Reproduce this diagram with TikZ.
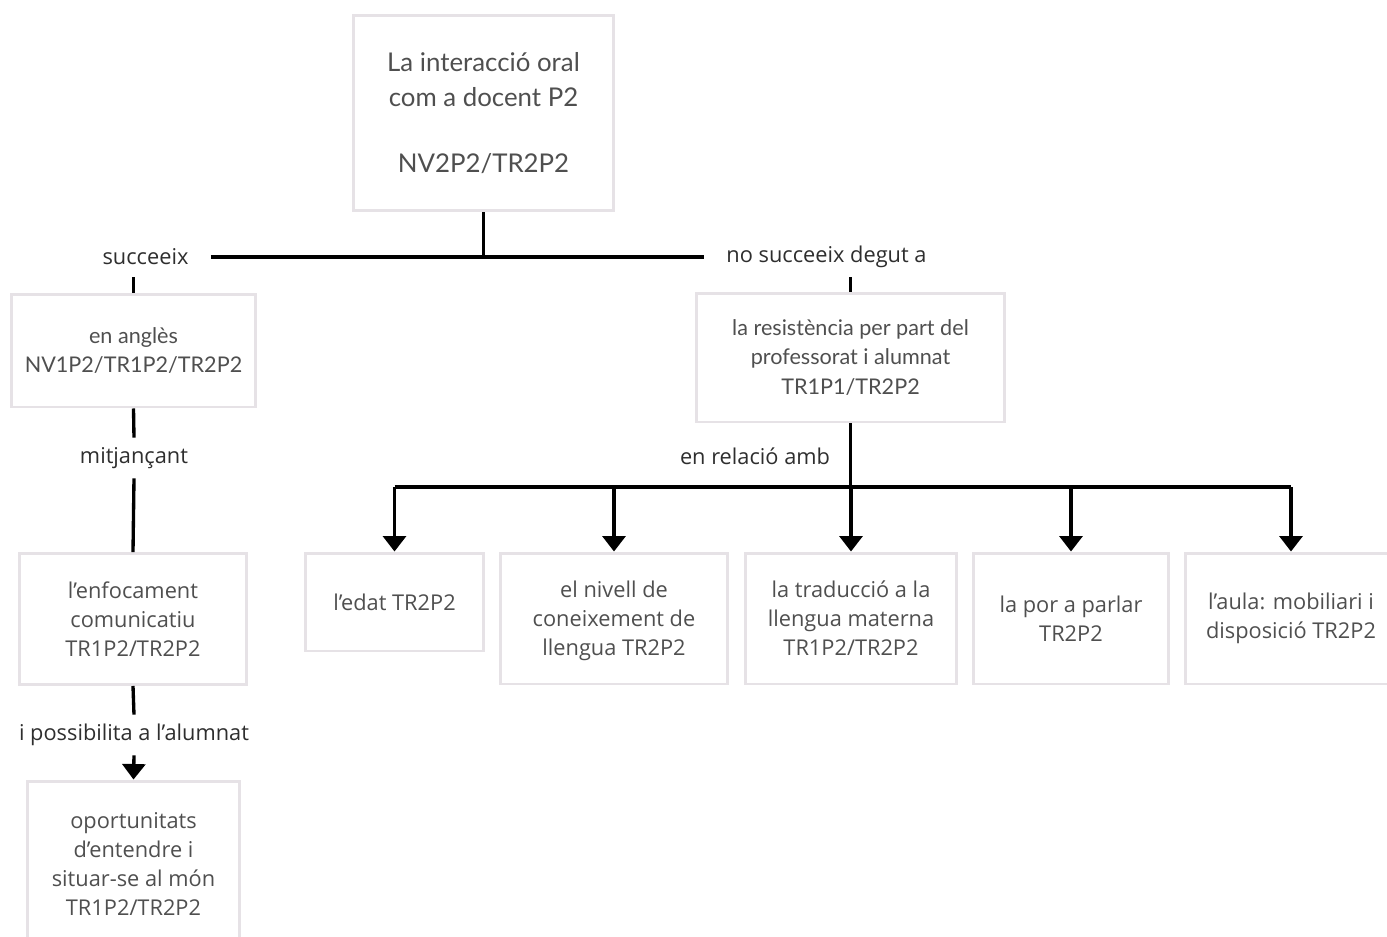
\documentclass[tikz,border=0pt]{standalone}
\usepackage{fontspec}
\setmainfont{Open Sans}
\newfontfamily\latofont{Lato}
\usepackage{xcolor}
\usepackage{tikz}
\usetikzlibrary{positioning, arrows.meta}
\definecolor{boxline}{HTML}{E6E2E6}
\definecolor{boxtext}{HTML}{4F4F4F}
\definecolor{labtext}{HTML}{2E2E2E}

\begin{document}
\begin{tikzpicture}[x=0.02cm, y=-0.02cm,
  n/.style={draw=boxline, line width=1.7pt, text=boxtext, align=center, inner sep=0pt, font=\fontsize{12.4}{16.5}\selectfont},
  nl/.style={n, font=\latofont\fontsize{12.3}{17}\selectfont},
  lab/.style={text=labtext, minimum height=0.8cm, inner xsep=0.44cm, inner ysep=0pt, font=\fontsize{12.4}{16}\selectfont},
  link/.style={line width=1.9pt, black},
  arrow/.style={link, -{Triangle[width=0.46cm, length=0.31cm]}}
]
  \useasboundingbox (0,0) rectangle (1387,937);

  \node[nl, minimum width=5.22cm, minimum height=3.92cm, font=\latofont\fontsize{14.7}{20}\selectfont] (top) at (483.5,113) {La interacció oral\\com a docent P2\\[1.2em]NV2P2/TR2P2};

  \node[lab] (succ) at (145.5,257) {succeeix};
  \node[lab] (nosucc) at (826.5,257) {no succeeix degut a};

  % branca esquerra
  \node[nl, minimum width=4.9cm, minimum height=2.26cm] (angles) at (133.5,350.5) {en anglès\\NV1P2/TR1P2/TR2P2};
  \node[lab] (mitj) at (134,458) {mitjançant};
  \node[n, minimum width=4.56cm, minimum height=2.62cm] (enfoc) at (133,619) {l’enfocament\\comunicatiu\\TR1P2/TR2P2};
  \node[lab] (possib) at (134,735) {i possibilita a l’alumnat};
  \node[n, minimum width=4.26cm, minimum height=3.32cm] (oport) at (133.5,864) {oportunitats\\d’entendre i\\situar-se al món\\TR1P2/TR2P2};

  % branca dreta
  \node[nl, minimum width=6.18cm, minimum height=2.58cm] (resist) at (850.5,357.5) {la resistència per part del\\professorat i alumnat\\TR1P1/TR2P2};
  \node[lab, inner xsep=0pt] (relacio) at (755,456) {en relació amb};
  \coordinate (fork) at (850.5,487);

  \node[n, minimum width=3.58cm, minimum height=1.96cm] (edat) at (394.5,602) {l’edat TR2P2};
  \node[n, minimum width=4.56cm, minimum height=2.62cm] (nivell) at (614,618.5) {\strut el nivell de\\coneixement de\\llengua TR2P2};
  \node[n, minimum width=4.24cm, minimum height=2.62cm] (trad) at (851,618.5) {la traducció a la\\llengua materna\\TR1P2/TR2P2};
  \node[n, minimum width=3.92cm, minimum height=2.62cm] (por) at (1071,618.5) {la por a parlar\\TR2P2};
  \node[n, minimum width=4.24cm, minimum height=2.62cm] (aula) at (1291,618.5) {l’aula: mobiliari i\\disposició TR2P2};

  \draw[link] (succ.east) -- (nosucc.west);
  \draw[link] (top.south) -- (top.south |- succ.east);
  \draw[link] (angles.north |- succ.south) -- (angles.north);
  \draw[link] (angles.south) -- (mitj.north);
  \draw[link] (mitj.south) -- (enfoc.north);
  \draw[link] (enfoc.south) -- (possib.north);
  \draw[arrow] (possib.south) -- (oport.north);

  \draw[link] (resist.north |- nosucc.south) -- (resist.north);
  \draw[link] (resist.south) -- (fork);
  \draw[link] (edat.north |- fork) -- (aula.north |- fork);
  \foreach \k in {edat, nivell, trad, por, aula}
    \draw[arrow] (\k.north |- fork) -- (\k.north);
\end{tikzpicture}
\end{document}
